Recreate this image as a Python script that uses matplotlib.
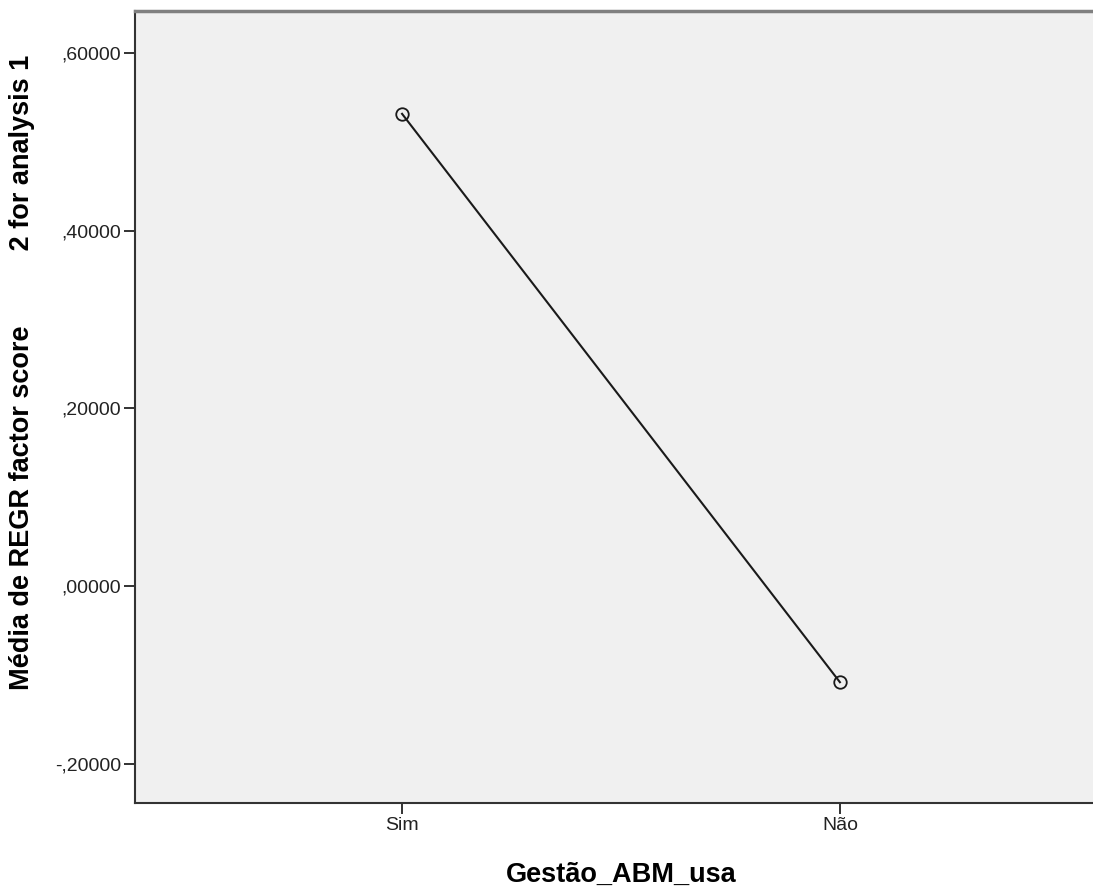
import matplotlib.pyplot as plt
from matplotlib.ticker import FuncFormatter

# data
categories = ["Sim", "Não"]
means = [0.5315, -0.1079]
yticks = [-0.2, 0.0, 0.2, 0.4, 0.6]

plt.rcParams['font.family'] = ['Liberation Sans', 'DejaVu Sans']

fig = plt.figure(figsize=(10.93, 8.86), dpi=100)
ax = fig.add_axes([0.1235, 0.0937, 0.8893, 0.8939])
ax.set_facecolor("#f0f0f0")

x = list(range(len(categories)))
ax.plot(x, means, color="#1a1a1a", lw=1.5, marker="o", ms=9,
        mfc="none", mec="#1a1a1a", mew=1.3)

ax.set_xlim(-0.61, 1.61)
ax.set_ylim(-0.2438, 0.6472)
ax.set_xticks(x)
ax.set_xticklabels(categories)
ax.set_yticks(yticks)


def spss_fmt(v, pos):
    s = "%.5f" % v
    s = s.replace("0.", ".", 1).replace(".", ",")
    if s == "-,00000":
        s = ",00000"
    return s


ax.yaxis.set_major_formatter(FuncFormatter(spss_fmt))
ax.tick_params(direction="out", length=8, width=1.3, colors="#222222",
               labelsize=14, pad=2)

for side in ["left", "bottom"]:
    ax.spines[side].set_color("#333333")
    ax.spines[side].set_linewidth(1.5)
ax.spines["top"].set_color("#808080")
ax.spines["top"].set_linewidth(2.5)
ax.spines["right"].set_visible(False)

fig.text(621 / 1093, 1 - 882 / 886, "Gestão_ABM_usa", fontsize=19.5,
         fontweight="bold", ha="center", va="baseline")
# SPSS label keeps a wide gap before the "2"
ylab = "Média de REGR factor score" + " " * 10 + "2 for analysis 1"
fig.text(22 / 1093, 1 - 372 / 886, ylab, fontsize=19.5,
         fontweight="bold", ha="center", va="center", rotation=90)

fig.savefig("out.png", dpi=100)
